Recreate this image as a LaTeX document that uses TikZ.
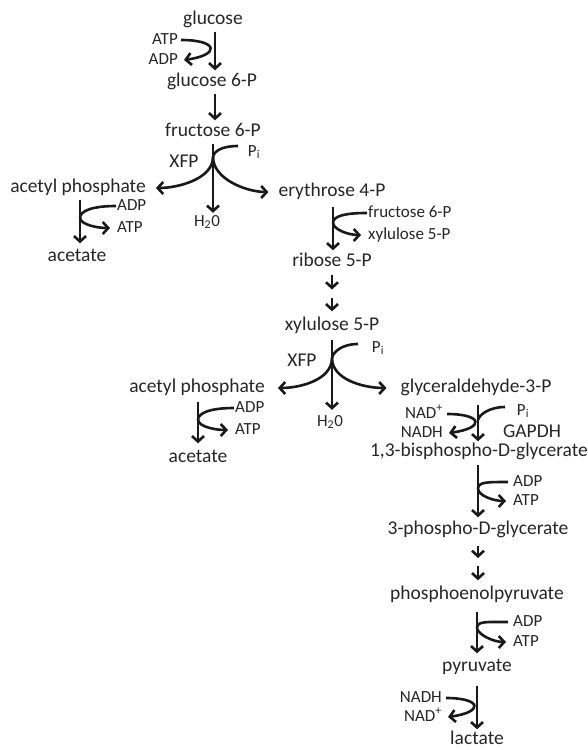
\documentclass[tikz,border=0pt]{standalone}
\usepackage{fontspec}
\setmainfont{Carlito}
\usetikzlibrary{arrows.meta}
\begin{document}
\begin{tikzpicture}[x=1pt,y=-1pt,
  met/.style={inner sep=1pt,text height=13pt,text depth=4pt,font=\fontsize{19.5}{22}\selectfont,text=black!85},
  sm/.style={inner sep=1pt,text height=11pt,text depth=3pt,font=\fontsize{17}{19}\selectfont,text=black!85},
  ln/.style={line width=2.6pt,black!90},
  arr/.style={ln,-{Straight Barb[length=5.5pt,width=12pt]}},
  dn/.style={arr,shorten <=2pt,shorten >=2pt}
]
\useasboundingbox (0,0) rectangle (587,750);
% ---------- nodes ----------
\node[met] (glc) at (213,20) {glucose};
\node[sm,anchor=east] (atp1) at (179,40) {ATP};
\node[sm,anchor=east] (adp1) at (179,60) {ADP};
\node[met] (g6p) at (212,82) {glucose 6-P};
\node[met] (f6p) at (213,132) {fructose 6-P};
\node[met] (xfp1) at (184,163) {XFP};
\node[sm] (pi1) at (254,152) {P\textsubscript{i}};
\node[met] (acp1) at (78,188) {acetyl phosphate};
\node[sm] (h2o1) at (207,222) {H\textsubscript{2}0};
\node[met] (e4p) at (332,192) {erythrose 4-P};
\node[sm,anchor=west] (adp2) at (116,206) {ADP};
\node[sm,anchor=west] (atp2) at (116,228) {ATP};
\node[met] (ace1) at (77,257) {acetate};
\node[sm,anchor=west] (f6pb) at (367,213) {fructose 6-P};
\node[sm,anchor=west] (x5pb) at (367,235) {xylulose 5-P};
\node[met] (r5p) at (332,262) {ribose 5-P};
\node[met] (x5p) at (332,326) {xylulose 5-P};
\node[met] (xfp2) at (302,362) {XFP};
\node[sm] (pi2) at (378,348) {P\textsubscript{i}};
\node[met] (acp2) at (197,388) {acetyl phosphate};
\node[sm] (h2o2) at (330,422) {H\textsubscript{2}0};
\node[met] (g3p) at (476,388) {glyceraldehyde-3-P};
\node[sm,anchor=west] (adp3) at (234,408) {ADP};
\node[sm,anchor=west] (atp3) at (234,430) {ATP};
\node[met] (ace2) at (198,458) {acetate};
\node[sm,anchor=east] (nadp1) at (444,414) {NAD\textsuperscript{+}};
\node[sm,anchor=east] (nadh1) at (444,433) {NADH};
\node[sm] (pi3) at (523,411) {P\textsubscript{i}};
\node[met] (gapdh) at (532,433) {GAPDH};
\node[met] (bpg) at (479,452) {1,3-bisphospho-D-glycerate};
\node[sm,anchor=west] (adp4) at (512,482) {ADP};
\node[sm,anchor=west] (atp4) at (512,501) {ATP};
\node[met] (pg3) at (478,530) {3-phospho-D-glycerate};
\node[met] (pep) at (477,595) {phosphoenolpyruvate};
\node[sm,anchor=west] (adp5) at (512,622) {ADP};
\node[sm,anchor=west] (atp5) at (512,642) {ATP};
\node[met] (pyr) at (477,667) {pyruvate};
\node[sm,anchor=east] (nadh2) at (443,698) {NADH};
\node[sm,anchor=east] (nadp2) at (443,717) {NAD\textsuperscript{+}};
\node[met] (lac) at (477,740) {lactate};
% ---------- junctions ----------
\coordinate (J0) at (215,50);
\coordinate (J1) at (213,157);
\coordinate (K1) at (80,218);
\coordinate (J2) at (333,223);
\coordinate (m1) at (332,293.5);
\coordinate (J3) at (332,358);
\coordinate (K2) at (198,420);
\coordinate (J4) at (478,420);
\coordinate (J5) at (478,489);
\coordinate (m2) at (478,562);
\coordinate (J6) at (477,628);
\coordinate (J7) at (477,708);
\coordinate (pi1s) at (238,146);
\coordinate (pi2s) at (358,344);
\coordinate (pi3s) at (505,407);
% ---------- glucose -> glucose 6-P ----------
\draw[dn] (glc.south -| J0) -- (g6p.north -| J0);
\draw[arr] ([xshift=2pt]atp1.east) .. controls +(38,0) and +(36,-5) .. ([xshift=5pt]adp1.east);
\draw[dn] (g6p.south -| J0) -- (f6p.north -| J0);
% ---------- XFP 1 ----------
\draw[ln] ([yshift=-2pt]f6p.south -| J1) -- (J1);
\draw[arr] (J1) -- ([yshift=1pt]h2o1.north -| J1);
\draw[ln] (pi1s) .. controls +(-16,0) and +(1,-6) .. (J1);
\draw[arr] (J1) .. controls +(0,22) and +(22,0) .. ([xshift=9pt]acp1.east);
\draw[arr] (J1) .. controls +(0,22) and +(-22,0) .. ([xshift=-9pt]e4p.west);
% ---------- acetyl phosphate 1 ----------
\draw[arr] ([yshift=-2pt]acp1.south -| K1) -- ([yshift=4pt]ace1.north -| K1);
\draw[ln] (adp2.west) .. controls +(-24,0) and +(0,-7) .. (K1);
\draw[arr] (K1) .. controls +(1,7) and +(-12,0) .. ([xshift=-6pt]atp2.west);
% ---------- erythrose -> ribose ----------
\draw[arr] ([yshift=-5pt]e4p.south -| J2) -- ([yshift=2pt]r5p.north -| J2);
\draw[ln] (f6pb.west) .. controls +(-22,0) and +(0,-7) .. (J2);
\draw[arr] (J2) .. controls +(1,7) and +(-12,0) .. ([xshift=-6pt]x5pb.west);
% ---------- ribose -> xylulose ----------
\draw[dn] ([yshift=-1pt]r5p.south) -- ([yshift=2pt]m1);
\draw[dn] ([yshift=-2pt]m1) -- ([yshift=3pt]x5p.north);
% ---------- XFP 2 ----------
\draw[ln] ([yshift=-4pt]x5p.south -| J3) -- (J3);
\draw[arr] (J3) -- ([yshift=4pt]h2o2.north -| J3);
\draw[ln] (pi2s) .. controls +(-16,0) and +(1,-6) .. (J3);
\draw[arr] (J3) .. controls +(0,22) and +(22,0) .. ([xshift=12pt]acp2.east);
\draw[arr] (J3) .. controls +(0,22) and +(-22,0) .. ([xshift=-13pt]g3p.west);
% ---------- acetyl phosphate 2 ----------
\draw[arr] ([yshift=-4pt]acp2.south -| K2) -- ([yshift=5pt]ace2.north -| K2);
\draw[ln] (adp3.west) .. controls +(-24,0) and +(0,-7) .. (K2);
\draw[arr] (K2) .. controls +(1,7) and +(-12,0) .. ([xshift=-6pt]atp3.west);
% ---------- GAPDH ----------
\draw[arr] ([yshift=-7pt]g3p.south -| J4) -- ([yshift=1pt]bpg.north -| J4);
\draw[arr] ([xshift=3pt]nadp1.east) .. controls +(36,0) and +(36,-5) .. ([xshift=5pt]nadh1.east);
\draw[ln] (pi3s) .. controls +(-16,0) and +(1,-5) .. (J4);
% ---------- 1,3-BPG -> 3PG ----------
\draw[arr] ([yshift=-3pt]bpg.south -| J5) -- ([yshift=3pt]pg3.north -| J5);
\draw[ln] ([xshift=-4pt]adp4.west) .. controls +(-22,0) and +(0,-7) .. (J5);
\draw[arr] (J5) .. controls +(1,7) and +(-12,0) .. ([xshift=-6pt]atp4.west);
% ---------- 3PG -> PEP ----------
\draw[dn] ([yshift=-4pt]pg3.south -| m2) -- ([yshift=2pt]m2);
\draw[dn] ([yshift=-2pt]m2) -- ([yshift=3pt]pep.north -| m2);
% ---------- PEP -> pyruvate ----------
\draw[arr] ([yshift=-7pt]pep.south -| J6) -- ([yshift=4pt]pyr.north -| J6);
\draw[ln] ([xshift=-4pt]adp5.west) .. controls +(-22,0) and +(0,-7) .. (J6);
\draw[arr] (J6) .. controls +(1,7) and +(-12,0) .. ([xshift=-6pt]atp5.west);
% ---------- pyruvate -> lactate ----------
\draw[arr] ([yshift=-9pt]pyr.south -| J7) -- ([yshift=1pt]lac.north -| J7);
\draw[arr] ([xshift=3pt]nadh2.east) .. controls +(36,0) and +(36,-5) .. ([xshift=5pt]nadp2.east);
\end{tikzpicture}
\end{document}
